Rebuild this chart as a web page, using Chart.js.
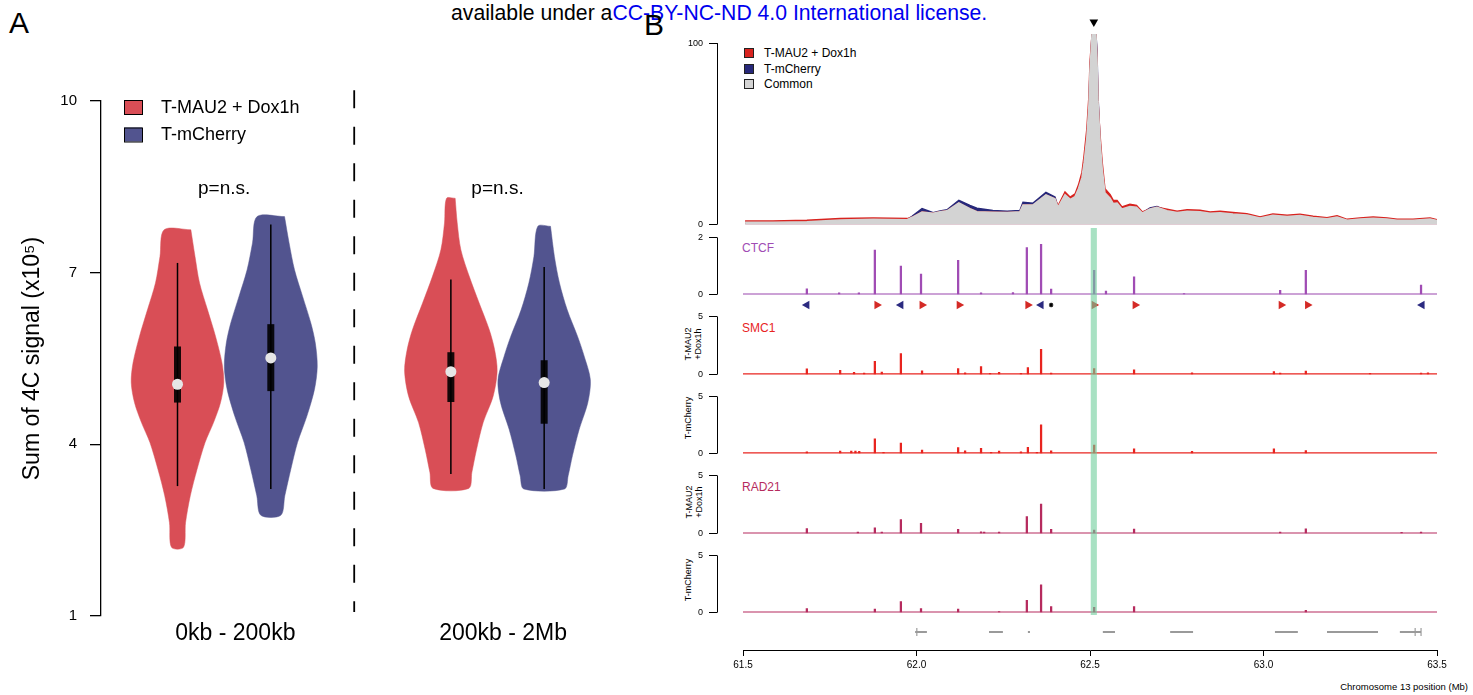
<!DOCTYPE html>
<html>
<head>
<meta charset="utf-8">
<title>4C signal and cohesin tracks</title>
<script src="https://cdn.jsdelivr.net/npm/chart.js@4.4.1/dist/chart.umd.min.js"></script>
<style>
  html, body { margin: 0; padding: 0; background: #fff; }
  body { position: relative; width: 1473px; height: 695px; overflow: hidden;
         font-family: "Liberation Sans", Arial, Helvetica, sans-serif; color: #000; }
  canvas, .txt, .key { position: absolute; }
  .txt { white-space: nowrap; }
  .rot { transform: translate(-50%, -50%) rotate(-90deg); text-align: center; font-size: 9px; line-height: 9.5px; }
  .key { width: 8px; height: 8px; border: 1px solid #222; }
</style>
</head>
<body>
<div class="txt" style="left:451px; top:2px; font-size:21.2px; line-height:21px;">available under a<span style="color:#0000ee">CC-BY-NC-ND 4.0 International license.</span></div>
<div class="txt" style="left:9px; top:8px; font-size:30px; line-height:30px;">A</div>
<div class="txt" style="left:644px; top:10px; font-size:30px; line-height:30px;">B</div>

<canvas id="violins" width="640" height="695" style="left:0; top:0;"></canvas>

<!-- 4C legend -->
<div class="key" style="left:744px; top:48px; background:#d8231f;"></div>
<div class="txt" style="left:764px; top:46px; font-size:12px; line-height:14px;">T-MAU2 + Dox1h</div>
<div class="key" style="left:744px; top:64px; background:#27287a;"></div>
<div class="txt" style="left:764px; top:62px; font-size:12px; line-height:14px;">T-mCherry</div>
<div class="key" style="left:744px; top:79px; background:#d3d3d3;"></div>
<div class="txt" style="left:764px; top:77px; font-size:12px; line-height:14px;">Common</div>

<!-- track names -->
<div class="txt" style="left:742px; top:241px; font-size:12px; line-height:14px; color:#a04cb4;">CTCF</div>
<div class="txt" style="left:742px; top:321px; font-size:12px; line-height:14px; color:#e8241f;">SMC1</div>
<div class="txt" style="left:742px; top:480px; font-size:12px; line-height:14px; color:#b62b5e;">RAD21</div>
<div class="txt rot" style="left:693px; top:344px;">T-MAU2<br>+Dox1h</div>
<div class="txt rot" style="left:689px; top:418px;">T-mCherry</div>
<div class="txt rot" style="left:694px; top:502px;">T-MAU2<br>+Dox1h</div>
<div class="txt rot" style="left:689px; top:580px;">T-mCherry</div>
<div class="txt" style="right:5px; top:681px; font-size:9.5px; line-height:11px;">Chromosome 13 position (Mb)</div>

<script>
// ---------- panel A: summed 4C signal per distance window ----------
const groupLabels = ['0kb - 200kb', '200kb - 2Mb'];
const conditionLabels = ['T-MAU2 + Dox1h', 'T-mCherry'];
const pValueText = 'p=n.s.';
const yTicksA = [1, 4, 7, 10];

// violin outlines: signal level (x10^5) and half width of the density
const mauNearLevels = [7.75, 7.28, 6.82, 6.35, 5.89, 5.42, 5.08, 4.73, 4.38, 4.03, 3.56, 3.10, 2.63, 2.20];
const mauNearWidths = [0.143, 0.188, 0.236, 0.322, 0.407, 0.477, 0.496, 0.461, 0.386, 0.295, 0.209, 0.137, 0.086, 0.064];
const cherryNearLevels = [7.98, 7.52, 7.05, 6.59, 6.12, 5.77, 5.36, 4.96, 4.49, 4.03, 3.56, 3.10, 2.76];
const cherryNearWidths = [0.147, 0.196, 0.254, 0.340, 0.429, 0.477, 0.498, 0.468, 0.386, 0.286, 0.214, 0.150, 0.107];
const mauFarLevels = [8.30, 7.87, 7.40, 6.94, 6.47, 6.01, 5.66, 5.28, 4.84, 4.38, 3.91, 3.51, 3.23];
const mauFarWidths = [0.046, 0.068, 0.107, 0.196, 0.303, 0.410, 0.468, 0.496, 0.453, 0.346, 0.275, 0.225, 0.191];
const cherryFarLevels = [7.81, 7.28, 6.82, 6.35, 5.89, 5.54, 5.13, 4.73, 4.26, 3.80, 3.45, 3.22];
const cherryFarWidths = [0.068, 0.110, 0.164, 0.247, 0.357, 0.429, 0.495, 0.468, 0.375, 0.303, 0.257, 0.218];

// box plot summaries: mau near, cherry near, mau far, cherry far
const whiskerHigh = [7.17, 7.84, 6.88, 7.10];
const boxHigh = [5.71, 6.10, 5.61, 5.47];
const medians = [5.05, 5.51, 5.27, 5.08];
const boxLow = [4.73, 4.93, 4.74, 4.36];
const whiskerLow = [3.27, 3.22, 3.48, 3.22];

// ---------- panel B: chr13 tracks (positions in Mb) ----------
const viewpoint = 62.511;
const xTicksB = [61.5, 62.0, 62.5, 63.0, 63.5];

const fourCPos = [61.506, 61.586, 61.684, 61.780, 61.875, 61.973, 61.987, 62.016, 62.048, 62.068,
  62.088, 62.122, 62.154, 62.174, 62.220, 62.261, 62.298, 62.307, 62.336, 62.373,
  62.399, 62.408, 62.428, 62.443, 62.457, 62.467, 62.477, 62.483, 62.491, 62.497,
  62.500, 62.506, 62.517, 62.520, 62.523, 62.529, 62.535, 62.543, 62.558, 62.567,
  62.578, 62.592, 62.615, 62.634, 62.651, 62.673, 62.693, 62.722, 62.751, 62.780,
  62.817, 62.846, 62.875, 62.912, 62.952, 62.990, 63.027, 63.068, 63.105, 63.143,
  63.183, 63.212, 63.241, 63.278, 63.316, 63.356, 63.385, 63.431, 63.480, 63.500];
const fourCMau2 = [2.0, 2.0, 2.4, 3.3, 3.7, 3.3, 4.0, 6.9, 6.2, 7.1,
  7.6, 11.9, 8.7, 7.1, 6.8, 6.6, 7.0, 10.8, 10.8, 16.3,
  14.2, 10.4, 17.9, 15.1, 16.9, 21.9, 28.9, 38.0, 52.7, 70.9,
  89.2, 105, 105, 92.0, 68.0, 49.0, 34.4, 19.7, 16.5, 13.3,
  13.3, 9.7, 11.2, 10.6, 7.0, 8.6, 9.5, 8.4, 7.3, 8.2,
  7.9, 7.0, 7.3, 6.6, 6.0, 4.2, 5.9, 5.1, 5.7, 4.6,
  3.8, 4.8, 2.9, 3.7, 4.2, 3.7, 2.9, 2.9, 3.7, 2.7];
const fourCCherry = [1.2, 1.3, 1.6, 2.5, 2.9, 2.7, 4.6, 8.8, 6.6, 7.5,
  8.2, 13.4, 10.5, 9.0, 7.8, 7.4, 7.8, 12.3, 11.8, 17.8,
  15.2, 9.6, 16.4, 13.9, 15.4, 19.9, 26.0, 34.0, 48.0, 66.0,
  85.0, 105, 105, 96.5, 70.9, 46.0, 31.0, 17.5, 14.5, 11.6,
  11.8, 8.6, 9.9, 9.6, 6.4, 9.2, 9.9, 7.6, 6.6, 7.3,
  7.1, 6.2, 6.5, 5.8, 5.3, 3.6, 5.1, 4.4, 5.0, 3.9,
  3.2, 4.1, 2.4, 3.1, 3.5, 3.1, 2.4, 2.4, 3.1, 2.2];

const ctcfPos = [61.684, 61.777, 61.834, 61.880, 61.955, 62.013, 62.120, 62.186, 62.278, 62.318,
  62.359, 62.388, 62.512, 62.546, 62.627, 62.771, 63.048, 63.122, 63.454];
const ctcfVal = [0.2, 0.06, 0.06, 1.56, 1.0, 0.72, 1.2, 0.06, 0.07, 1.64,
  1.76, 0.19, 0.85, 0.12, 0.62, 0.04, 0.15, 0.85, 0.33];

// CTCF motif orientation: '+' forward, '-' reverse, '*' unassigned
const motifPos = [61.684, 61.886, 61.955, 62.016, 62.123, 62.321, 62.359, 62.388, 62.512, 62.630, 63.051, 63.127, 63.457];
const motifStrand = ['-', '+', '-', '+', '+', '+', '-', '*', '+', '+', '+', '+', '-'];

const smc1MauPos = [61.684, 61.780, 61.820, 61.849, 61.880, 61.900, 61.955, 62.016, 62.120, 62.140,
  62.186, 62.212, 62.238, 62.301, 62.321, 62.359, 62.388, 62.512, 62.627, 62.794,
  63.030, 63.048, 63.122, 63.307, 63.454, 63.474];
const smc1MauVal = [0.49, 0.36, 0.19, 0.14, 1.15, 0.22, 1.8, 0.33, 0.52, 0.16,
  0.68, 0.1, 0.19, 0.1, 0.6, 2.18, 0.14, 0.52, 0.41, 0.16,
  0.27, 0.14, 0.3, 0.1, 0.14, 0.16];
const smc1CherryPos = [61.684, 61.780, 61.812, 61.824, 61.835, 61.880, 61.905, 61.955, 62.016, 62.120,
  62.140, 62.186, 62.215, 62.238, 62.301, 62.321, 62.347, 62.359, 62.388, 62.512,
  62.627, 62.794, 63.030, 63.122];
const smc1CherryVal = [0.16, 0.22, 0.22, 0.22, 0.2, 1.3, 0.12, 0.93, 0.3, 0.52,
  0.25, 0.47, 0.12, 0.22, 0.15, 0.55, 0.12, 2.52, 0.25, 0.74,
  0.41, 0.19, 0.41, 0.27];

const rad21MauPos = [61.684, 61.831, 61.880, 61.900, 61.955, 62.013, 62.120, 62.186, 62.195, 62.238,
  62.318, 62.359, 62.388, 62.512, 62.627, 63.048, 63.122, 63.398, 63.454];
const rad21MauVal = [0.44, 0.14, 0.49, 0.12, 1.21, 0.88, 0.36, 0.16, 0.12, 0.12,
  1.46, 2.53, 0.36, 0.3, 0.38, 0.12, 0.41, 0.1, 0.12];
const rad21CherryPos = [61.684, 61.880, 61.955, 62.013, 62.120, 62.238, 62.318, 62.359, 62.388, 62.512, 62.627, 63.122];
const rad21CherryVal = [0.36, 0.3, 0.97, 0.36, 0.3, 0.08, 1.08, 2.43, 0.52, 0.47, 0.52, 0.19];

const geneStart = [61.996, 62.209, 62.321, 62.537, 62.731, 63.033, 63.183, 63.393];
const geneEnd = [62.030, 62.249, 62.327, 62.572, 62.797, 63.099, 63.330, 63.454];
const exonMarks = [62.001, 63.437, 63.454];

// ---------- shared styling ----------
const FONT = '"Liberation Sans", Arial, Helvetica, sans-serif';
Chart.defaults.font.family = FONT;
Chart.defaults.color = '#000';

const RED = '#d94e56';
const BLUE = '#52548f';
const noChrome = { legend: { display: false }, tooltip: { enabled: false } };
const xy = (xs, ys) => xs.map((x, i) => ({ x, y: ys[i] }));

// ---------- panel A ----------
const violinX = [1, 2, 3.93, 4.93];
const violinColors = [RED, BLUE, RED, BLUE];
const outlines = [
  [mauNearLevels, mauNearWidths],
  [cherryNearLevels, cherryNearWidths],
  [mauFarLevels, mauFarWidths],
  [cherryFarLevels, cherryFarWidths]
];

const violinDatasets = [];
outlines.forEach(([levels, widths], i) => {
  const c = violinX[i];
  const right = levels.map((v, k) => ({ x: c + widths[k], y: v }));
  const left = levels.map((v, k) => ({ x: c - widths[k], y: v })).reverse();
  violinDatasets.push({
    data: right.concat(left, [right[0]]),
    fill: 'shape',
    backgroundColor: violinColors[i],
    borderColor: violinColors[i],
    borderWidth: 0.5,
    tension: 0.3,
    pointRadius: 0,
    order: 4
  });
  violinDatasets.push({
    data: [{ x: c, y: whiskerLow[i] }, { x: c, y: whiskerHigh[i] }],
    borderColor: '#000', borderWidth: 1.5, pointRadius: 0, order: 3
  });
  violinDatasets.push({
    data: [{ x: c, y: boxLow[i] }, { x: c, y: boxHigh[i] }],
    borderColor: 'rgba(0,0,0,0.9)', borderWidth: 7, borderCapStyle: 'butt', pointRadius: 0, order: 2
  });
});
violinDatasets.push({
  data: medians.map((m, i) => ({ x: violinX[i], y: m })),
  showLine: false, pointRadius: 5.5, pointBackgroundColor: '#e6e6e6', pointBorderWidth: 0, order: 1
});
// dashed divider between the two distance windows
violinDatasets.push({
  data: [{ x: 2.894, y: 10.19 }, { x: 2.894, y: 1.07 }],
  borderColor: '#000', borderWidth: 1.8, borderDash: [18, 18.5], pointRadius: 0, clip: false, order: 5
});

const panelALabels = {
  id: 'panelALabels',
  afterDraw(chart) {
    const { ctx, scales: { x } } = chart;
    ctx.save();
    ctx.textBaseline = 'middle';
    conditionLabels.forEach((t, i) => {
      const top = 100 + i * 27.5;
      ctx.fillStyle = [RED, BLUE][i];
      ctx.fillRect(124, top, 18, 14);
      ctx.strokeStyle = '#000';
      ctx.lineWidth = 1;
      ctx.strokeRect(124.5, top + 0.5, 18, 14);
      ctx.fillStyle = '#000';
      ctx.font = '18px ' + FONT;
      ctx.textAlign = 'left';
      ctx.fillText(t, 161, top + 8);
    });
    ctx.textAlign = 'center';
    ctx.font = '19px ' + FONT;
    [1.5, 4.43].forEach(v => ctx.fillText(pValueText, x.getPixelForValue(v), 189));
    ctx.font = '23px ' + FONT;
    groupLabels.forEach((t, i) => ctx.fillText(t, x.getPixelForValue([1.62, 4.49][i]), 634));
    ctx.restore();
  }
};

new Chart(document.getElementById('violins'), {
  type: 'line',
  data: { datasets: violinDatasets },
  options: {
    responsive: false, animation: false, events: [],
    layout: { padding: { top: 101, bottom: 79, left: 0, right: 10 } },
    plugins: noChrome,
    scales: {
      x: { type: 'linear', min: 0.18, max: 5.85, display: false },
      y: {
        min: 1, max: 10,
        afterFit: s => { s.width = 101; },
        afterBuildTicks: s => { s.ticks = yTicksA.map(v => ({ value: v })); },
        border: { display: true, color: '#000', width: 1.3 },
        grid: { drawOnChartArea: false, color: '#000', lineWidth: 1.3, tickLength: 11 },
        ticks: { color: '#000', font: { size: 15 }, padding: 13 },
        title: { display: true, text: 'Sum of 4C signal (x10⁵)', color: '#000', font: { size: 23 }, padding: { top: 19, bottom: 0 } }
      }
    }
  },
  plugins: [panelALabels]
});

// ---------- panel B ----------
const PX_PER_MB = 347;
const TRACK_X_MIN = 61.5 - 26 / PX_PER_MB;   // gap between the y axis and the data
const AXIS_W = 37;

function addCanvas(left, top, width, height) {
  const c = document.createElement('canvas');
  c.width = width;
  c.height = height;
  c.style.left = left + 'px';
  c.style.top = top + 'px';
  document.body.appendChild(c);
  return c;
}

// R-style axis: the line only runs from the first to the last tick
const shortAxisLine = {
  id: 'shortAxisLine',
  afterDraw(chart) {
    const s = chart.scales.y;
    if (!s.options.display) return;
    const ctx = chart.ctx;
    const x = Math.round(s.right) + 0.5;
    ctx.save();
    ctx.strokeStyle = '#000';
    ctx.lineWidth = 1;
    ctx.beginPath();
    ctx.moveTo(x, s.getPixelForValue(s.ticks[0].value));
    ctx.lineTo(x, s.getPixelForValue(s.ticks[s.ticks.length - 1].value));
    ctx.stroke();
    ctx.restore();
  }
};

function trackChart({ top, bottom, yMax, tickTop, padTop = 10, datasets }) {
  const canvas = addCanvas(680, top - padTop, 790, bottom - top + padTop + 10);
  return new Chart(canvas, {
    type: 'bar',
    data: { datasets },
    options: {
      responsive: false, animation: false, events: [],
      layout: { padding: { top: padTop, bottom: 10, left: 0, right: 33 } },
      plugins: noChrome,
      scales: {
        x: { type: 'linear', min: TRACK_X_MIN, max: 63.5, offset: false, display: false },
        y: {
          min: 0, max: yMax,
          afterFit: s => { s.width = AXIS_W; },
          afterBuildTicks: s => { s.ticks = [{ value: 0 }, { value: tickTop ?? yMax }]; },
          border: { display: false },
          grid: { drawOnChartArea: false, color: '#000', lineWidth: 1, tickLength: 8 },
          ticks: { font: { size: 9 }, color: '#000', padding: 6 }
        }
      }
    },
    plugins: [shortAxisLine]
  });
}

// a one-row strip of symbols sharing the track x range
function symbolRow(top, height, dataset) {
  return new Chart(addCanvas(680, top, 790, height), {
    type: 'line',
    data: { datasets: [Object.assign({ showLine: false, clip: false }, dataset)] },
    options: {
      responsive: false, animation: false, events: [],
      layout: { autoPadding: false, padding: { top: 0, bottom: 0, left: AXIS_W, right: 33 } },
      plugins: noChrome,
      scales: {
        x: { type: 'linear', min: TRACK_X_MIN, max: 63.5, display: false },
        y: { min: -1, max: 1, display: false }
      }
    }
  });
}

function spikes(pos, val, color) {
  return { type: 'bar', data: xy(pos, val), backgroundColor: color, barThickness: 1.6, grouped: false, order: 1 };
}
function baseline(color, width) {
  return {
    type: 'line', data: [{ x: 61.5, y: 0 }, { x: 63.5, y: 0 }],
    borderColor: color, borderWidth: width, pointRadius: 0, order: 2
  };
}

// 4C profile: grey where both conditions overlap, colour where one is higher
const commonVals = fourCPos.map((_, i) => Math.min(fourCMau2[i], fourCCherry[i]));
trackChart({
  top: 34, bottom: 226, yMax: 105, tickTop: 100, padTop: 24,
  datasets: [
    { type: 'line', data: xy(fourCPos, commonVals), fill: 'origin', backgroundColor: '#d3d3d3',
      borderColor: '#d3d3d3', borderWidth: 1.6, pointRadius: 0, order: 1 },
    { type: 'line', data: xy(fourCPos, fourCMau2), fill: 'origin', backgroundColor: '#d8231f',
      borderColor: '#d8231f', borderWidth: 1.5, pointRadius: 0, order: 2 },
    { type: 'line', data: xy(fourCPos, fourCCherry), fill: 'origin', backgroundColor: '#27287a',
      borderColor: '#27287a', borderWidth: 1.5, pointRadius: 0, order: 3 }
  ]
});

// viewpoint marker above the 4C profile
symbolRow(14, 16, {
  data: [{ x: viewpoint, y: 0 }],
  pointStyle: 'triangle', pointRotation: 180, pointRadius: 5,
  pointBackgroundColor: '#000', pointBorderWidth: 0
});

trackChart({ top: 236, bottom: 296, yMax: 2, datasets: [spikes(ctcfPos, ctcfVal, '#a04cb4'), baseline('#9a46ae', 2.2)] });

// motif orientation row
symbolRow(297, 16, {
  data: motifPos.map(x => ({ x, y: 0 })),
  pointStyle: motifStrand.map(s => (s === '*' ? 'star' : 'triangle')),
  pointRotation: motifStrand.map(s => (s === '+' ? 90 : -90)),
  pointRadius: motifStrand.map(s => (s === '*' ? 2.2 : 5)),
  pointBackgroundColor: motifStrand.map(s => (s === '+' ? '#d42a26' : s === '-' ? '#2b2a80' : '#000')),
  pointBorderColor: motifStrand.map(s => (s === '*' ? '#000' : 'rgba(0,0,0,0)')),
  pointBorderWidth: motifStrand.map(s => (s === '*' ? 1.2 : 0))
});

trackChart({ top: 315, bottom: 376, yMax: 5, datasets: [spikes(smc1MauPos, smc1MauVal, '#e8241f'), baseline('#e8241f', 2.5)] });
trackChart({ top: 395, bottom: 455, yMax: 5, datasets: [spikes(smc1CherryPos, smc1CherryVal, '#e8241f'), baseline('#e8241f', 2.5)] });
trackChart({ top: 474, bottom: 535, yMax: 5, datasets: [spikes(rad21MauPos, rad21MauVal, '#b62b5e'), baseline('#b62b5e', 2.2)] });
trackChart({ top: 554, bottom: 614, yMax: 5, datasets: [spikes(rad21CherryPos, rad21CherryVal, '#b62b5e'), baseline('#b62b5e', 2.2)] });

// genes and the genomic coordinate axis
const geneSegments = geneStart.flatMap((s, i) => [{ x: s, y: 0.6 }, { x: geneEnd[i], y: 0.6 }, { x: geneEnd[i], y: null }]);
new Chart(addCanvas(680, 615, 790, 80), {
  type: 'line',
  data: {
    datasets: [
      { data: geneSegments, borderColor: '#9a9a9a', borderWidth: 2, pointRadius: 0, spanGaps: false },
      { data: exonMarks.map(x => ({ x, y: 0.6 })), showLine: false, pointStyle: 'line', pointRotation: 90,
        pointRadius: 4, pointBorderColor: '#8a8a8a', pointBorderWidth: 1 }
    ]
  },
  options: {
    responsive: false, animation: false, events: [],
    layout: { padding: { top: 5, bottom: 0, left: 63, right: 33 } },
    plugins: noChrome,
    scales: {
      x: {
        type: 'linear', min: 61.5, max: 63.5,
        afterFit: s => { s.height = 45; },
        afterBuildTicks: s => { s.ticks = xTicksB.map(v => ({ value: v })); },
        border: { display: true, color: '#000', width: 1 },
        grid: { drawOnChartArea: false, color: '#000', lineWidth: 1, tickLength: 6 },
        ticks: { font: { size: 10 }, color: '#000', padding: 3, maxRotation: 0, autoSkip: false, callback: v => v.toFixed(1) }
      },
      y: { min: 0, max: 1, display: false }
    }
  }
});

// viewpoint highlight laid over all ChIP tracks
new Chart(addCanvas(680, 228, 790, 387), {
  type: 'bar',
  data: {
    datasets: [{ data: [{ x: viewpoint, y: [0, 1] }], backgroundColor: 'rgba(110,205,155,0.6)', barThickness: 5.5 }]
  },
  options: {
    responsive: false, animation: false, events: [],
    layout: { padding: { top: 0, bottom: 0, left: 63, right: 33 } },
    plugins: noChrome,
    scales: {
      x: { type: 'linear', min: 61.5, max: 63.5, offset: false, display: false },
      y: { min: 0, max: 1, display: false }
    }
  }
});
</script>
</body>
</html>
